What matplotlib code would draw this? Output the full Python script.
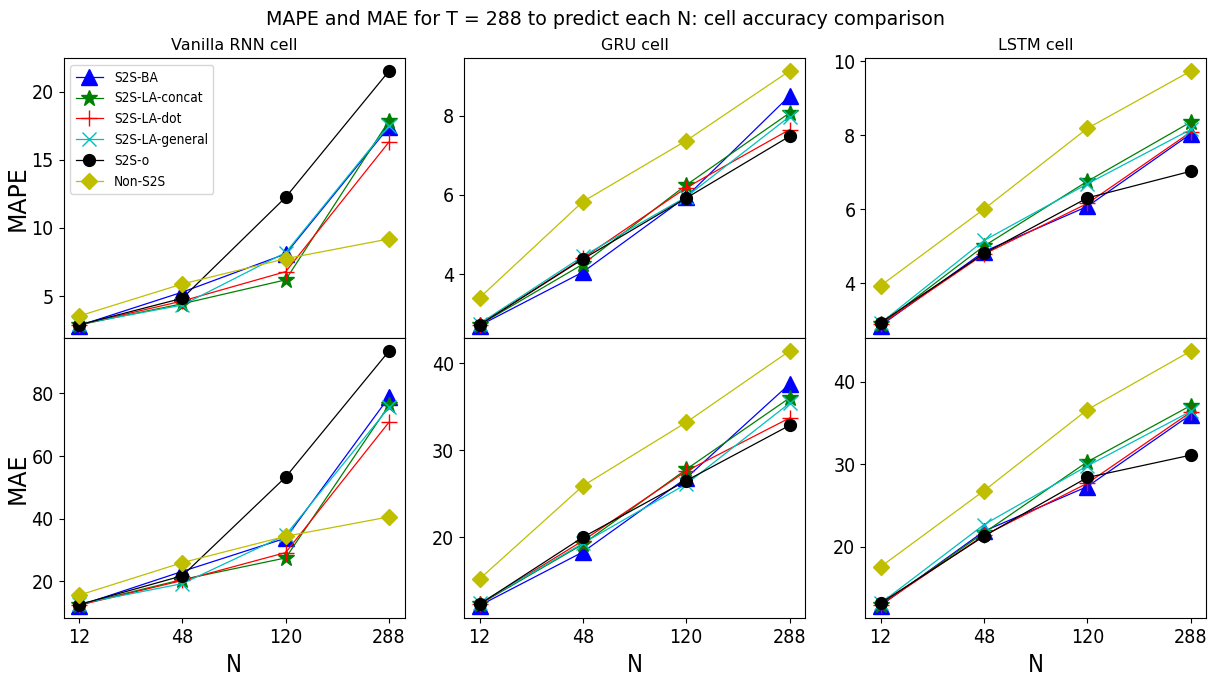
import matplotlib
matplotlib.use("Agg")
import matplotlib.pyplot as plt
from matplotlib.ticker import MultipleLocator
import numpy as np

# Narrow face for ticks, legend and the N label; regular face for titles.
plt.rcParams['font.family'] = ['DejaVu Sans Condensed', 'DejaVu Sans']
plt.rcParams['font.stretch'] = 'condensed'
REGULAR = dict(family='DejaVu Sans', stretch='normal')

N_values = [12, 48, 120, 288]
cells = ["Vanilla RNN cell", "GRU cell", "LSTM cell"]
models = ["S2S-BA", "S2S-LA-concat", "S2S-LA-dot", "S2S-LA-general", "S2S-o", "Non-S2S"]

# MAPE per cell, one list per model (ordered as `models`)
mape_rnn = [
    [2.85, 5.3, 8.1, 17.4],
    [2.9, 4.45, 6.2, 17.85],
    [2.9, 4.65, 6.8, 16.3],
    [2.95, 4.35, 8.2, 17.5],
    [2.9, 4.85, 12.25, 21.5],
    [3.55, 5.9, 7.75, 9.2],
]
mape_gru = [
    [2.7, 4.05, 5.95, 8.5],
    [2.72, 4.25, 6.25, 8.07],
    [2.72, 4.4, 6.18, 7.65],
    [2.75, 4.45, 5.95, 7.98],
    [2.72, 4.38, 5.92, 7.48],
    [3.4, 5.83, 7.37, 9.13],
]
mape_lstm = [
    [2.85, 4.85, 6.07, 8.03],
    [2.88, 5.0, 6.75, 8.35],
    [2.88, 4.78, 6.15, 8.08],
    [2.92, 5.15, 6.68, 8.15],
    [2.93, 4.8, 6.3, 7.02],
    [3.93, 6.0, 8.18, 9.73],
]

# MAE per cell
mae_rnn = [
    [12.3, 23.2, 33.8, 78.8],
    [12.6, 20.6, 27.5, 76.2],
    [12.4, 20.3, 29.2, 70.8],
    [12.8, 19.3, 34.8, 75.5],
    [12.6, 21.8, 53.3, 93.5],
    [15.6, 26.0, 34.4, 40.6],
]
mae_gru = [
    [12.15, 18.3, 26.8, 37.6],
    [12.3, 19.2, 27.8, 36.0],
    [12.3, 19.6, 27.6, 33.7],
    [12.4, 19.3, 26.1, 35.4],
    [12.3, 20.0, 26.5, 32.85],
    [15.2, 25.9, 33.2, 41.4],
]
mae_lstm = [
    [12.9, 21.9, 27.3, 36.0],
    [13.0, 21.7, 30.3, 37.1],
    [13.0, 21.4, 27.7, 36.3],
    [13.2, 22.7, 29.8, 36.4],
    [13.2, 21.3, 28.4, 31.1],
    [17.6, 26.8, 36.6, 43.7],
]

styles = [
    dict(color='b', marker='^', ms=11),
    dict(color='g', marker='*', ms=12),
    dict(color='r', marker='+', ms=12),
    dict(color='c', marker='x', ms=10),
    dict(color='k', marker='o', ms=8.5),
    dict(color='y', marker='D', ms=8),
]

mape_steps = [5, 2, 2]
mae_steps = [20, 10, 10]

fig = plt.figure(figsize=(12.12, 6.76), dpi=100)
W, H = 1212, 676
lefts = [63.5, 464, 865.2]
ax_w = 341
top_y0, mid_y, bot_y1 = 58.3, 338.3, 618.3

mape_all = [mape_rnn, mape_gru, mape_lstm]
mae_all = [mae_rnn, mae_gru, mae_lstm]
x = np.arange(len(N_values))

for i in range(3):
    ax_top = fig.add_axes([lefts[i] / W, 1 - mid_y / H, ax_w / W, (mid_y - top_y0) / H])
    ax_bot = fig.add_axes([lefts[i] / W, 1 - bot_y1 / H, ax_w / W, (bot_y1 - mid_y) / H],
                          sharex=ax_top)
    for series, st, name in zip(mape_all[i], styles, models):
        ax_top.plot(x, series, lw=0.9, label=name, **st)
    for series, st, name in zip(mae_all[i], styles, models):
        ax_bot.plot(x, series, lw=0.9, label=name, **st)
    ax_top.set_title(cells[i], fontsize=11.5, **REGULAR)
    ax_top.tick_params(axis='x', bottom=False, labelbottom=False)
    ax_top.tick_params(axis='y', labelsize=14)
    ax_bot.tick_params(axis='both', labelsize=14)
    ax_top.yaxis.set_major_locator(MultipleLocator(mape_steps[i]))
    ax_bot.yaxis.set_major_locator(MultipleLocator(mae_steps[i]))
    ax_bot.set_xticks(x)
    ax_bot.set_xticklabels([str(n) for n in N_values])
    ax_bot.set_xlabel("N", fontsize=17)
    if i == 0:
        ax_top.set_ylabel("MAPE", fontsize=17, **REGULAR)
        ax_bot.set_ylabel("MAE", fontsize=17, **REGULAR)
        ax_top.yaxis.set_label_coords(-0.098, 0.5)
        ax_bot.yaxis.set_label_coords(-0.098, 0.5)
        ax_top.legend(loc='upper left', fontsize=9.8)

fig.suptitle("MAPE and MAE for T = 288 to predict each N: cell accuracy comparison",
             fontsize=13.7, y=0.985, **REGULAR)
fig.savefig("out.png", dpi=100)
